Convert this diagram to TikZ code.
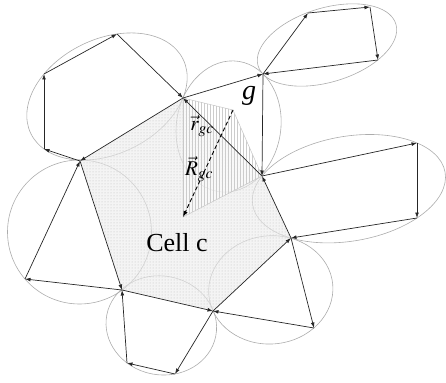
\documentclass[tikz,border=0pt]{standalone}
\usepackage{mathptmx}
\usepackage{fontspec}
\setmainfont{Liberation Serif}
\usetikzlibrary{arrows.meta,patterns}
\tikzset{
  ar/.style={-{Latex[length=5.5pt,width=3.8pt]}, line width=0.7pt, black!85},
  dar/.style={-{Latex[length=6pt,width=4.5pt]}, line width=0.9pt, black, dash pattern=on 4pt off 2.5pt},
  ell/.style={draw=gray!65, line width=0.6pt},
  kite/.style={draw=gray!45, line width=0.5pt},
  lab/.style={inner sep=0pt},
}
\begin{document}
\begin{tikzpicture}[x=1pt,y=-1pt]
\useasboundingbox (0,0) rectangle (446,382);
% vertices
\coordinate (vA) at (183,98);
\coordinate (vB) at (262,176);
\coordinate (vC) at (291,238);
\coordinate (vD) at (213,311);
\coordinate (vE) at (122,290);
\coordinate (vF) at (80,161);
\coordinate (G)  at (263,74);
\coordinate (tl1) at (44,149);
\coordinate (tl2) at (44,74);
\coordinate (tl3) at (117,34);
\coordinate (tr1) at (308,13);
\coordinate (tr2) at (370,7);
\coordinate (tr3) at (378,60);
\coordinate (r1) at (417,143);
\coordinate (r2) at (417,218);
\coordinate (lr) at (314,328);
\coordinate (b1) at (175,374);
\coordinate (b2) at (127,363);
\coordinate (l1) at (25,279);
\coordinate (g) at (233,110);
\coordinate (c) at (183,217);
% ellipse centres
\coordinate (e1) at (107,96.5);
\coordinate (e2) at (327,45);
\coordinate (e3) at (228.6,126.5);
\coordinate (e4) at (348.9,188.7);
\coordinate (e5) at (270.8,289.9);
\coordinate (e6) at (161.3,325.4);
\coordinate (e7) at (79.5,232);
% ellipses
\draw[ell, rotate around={26:(e1)}] (e1) ellipse [x radius=84.7pt, y radius=57.4pt];
\draw[ell, rotate around={17:(e2)}] (e2) ellipse [x radius=72pt, y radius=37pt];
\draw[ell, rotate around={-8.9:(e3)}] (e3) ellipse [x radius=52.2pt, y radius=65.9pt];
\draw[ell, rotate around={9.7:(e4)}] (e4) ellipse [x radius=97.6pt, y radius=52.4pt];
\draw[ell, rotate around={4.9:(e5)}] (e5) ellipse [x radius=62.2pt, y radius=54.1pt];
\draw[ell, rotate around={-11:(e6)}] (e6) ellipse [x radius=55.5pt, y radius=49.4pt];
\draw[ell] (e7) circle [radius=72pt];
% cell shading
\fill[gray!15, fill opacity=0.6] (vA)--(vB)--(vC)--(vD)--(vE)--(vF)--cycle;
\fill[pattern=dots, pattern color=gray!50] (vA)--(vB)--(vC)--(vD)--(vE)--(vF)--cycle;
\fill[white, fill opacity=0.5] (vA)--(g)--(vB)--(c)--cycle;
\fill[pattern=vertical lines, pattern color=gray!40] (vA)--(g)--(vB)--(c)--cycle;
\draw[kite] (vA)--(g)--(vB)--(c)--cycle;
% top-left polygon
\draw[ar] (vF) -- (tl1);
\draw[ar] (tl1) -- (tl2);
\draw[ar] (tl2) -- (tl3);
\draw[ar] (tl3) -- (vA);
\draw[ar] (vA) -- (vF);
% triangle A G B
\draw[ar] (vA) -- (G);
\draw[ar] (G) -- (vB);
\draw[ar] (vB) -- (vA);
% top-right polygon
\draw[ar] (G) -- (tr1);
\draw[ar] (tr1) -- (tr2);
\draw[ar] (tr2) -- (tr3);
\draw[ar] (tr3) -- (G);
% right polygon
\draw[ar] (vB) -- (r1);
\draw[ar] (r1) -- (r2);
\draw[ar] (r2) -- (vC);
\draw[ar] (vC) -- (vB);
% lower-right triangle
\draw[ar] (vD) -- (vC);
\draw[ar] (vC) -- (lr);
\draw[ar] (lr) -- (vD);
% bottom polygon
\draw[ar] (vE) -- (vD);
\draw[ar] (vD) -- (b1);
\draw[ar] (b1) -- (b2);
\draw[ar] (b2) -- (vE);
% left triangle
\draw[ar] (vF) -- (vE);
\draw[ar] (vE) -- (l1);
\draw[ar] (l1) -- (vF);
% R_gc
\draw[dar] (g) -- (c);
% labels
\node[lab] (lg) at (249,96) {\fontsize{28}{28}\selectfont\itshape g};
\node[lab] (lrgc) at (202,126) {\fontsize{21}{21}\selectfont$\vec{r}_{gc}$};
\node[lab] (lRgc) at (199,169) {\fontsize{21}{21}\selectfont$\vec{R}_{gc}$};
\node[lab] (lcell) at (177,243) {\fontsize{26}{26}\selectfont Cell c};
\end{tikzpicture}
\end{document}
